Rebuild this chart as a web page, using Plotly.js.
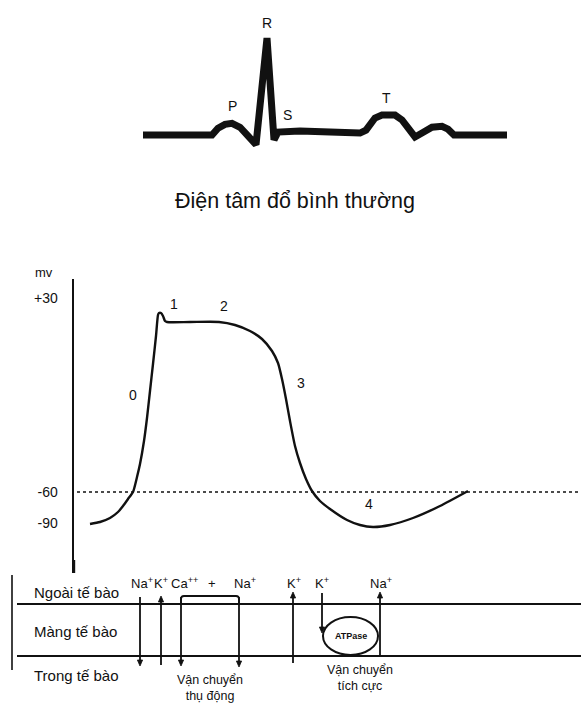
<!DOCTYPE html>
<html>
<head>
<meta charset="utf-8">
<script src="https://cdn.plot.ly/plotly-3.0.1.min.js"></script>
<style>html,body{margin:0;padding:0;background:#fff;}#chart{width:581px;height:704px;}</style>
</head>
<body>
<div id="chart"></div>
<script>
// ---- ECG (normal electrocardiogram) ----
var ecgTime = [143,200,212,218,225,232,240,248,256,267,274,278,300,330,360,366,375,382,395,402,415,422,432,442,448,454,507];
var ecgAmp  = [0,0,0,0.07,0.11,0.12,0.08,-0.01,-0.10,1.0,-0.05,0.03,0.04,0.03,0.02,0.05,0.175,0.206,0.206,0.155,-0.02,0.02,0.08,0.09,0.06,0,0];
var ecgWaveNames = ['P','Q','R','S','T'];
var ecgWaveTime  = [232,268,267,287,386];
var ecgWaveAmp   = [0.299,-0.278,1.155,0.206,0.381];
var ecgTitle = 'Điện tâm đổ bình thường';

// ---- Action potential (schematic levels) ----
var apTime  = [16,26,36,44,49,54,59,63,66,70,73,76,79,82,84,85,87,89,91,93,116,145,161,176,188,198,204,208,212,216,221,226,232,238,246,256,273,286,299,316,339,366,394];
var apLevel = [49,51,55,61,67,74,81,96,109,132,155,182,209,237,258,260,260,257,252,251,251,251,248,242,234,222,210,194,174,152,127,110,94,82,72,64,53,48,46,48,55,67,82];
var apTickVals = [50,81,275];
var apTickText = ['-90','-60','+30'];
var thresholdLevel = 81;
var phaseNames = ['0','1','2','3','4'];
var phaseTime  = [59,100,150,227,295];
var phaseLevel = [178,269,267,190,69];

// ---- Membrane transport ----
var zoneNames = ['Ngoài tế bào','Màng tế bào','Trong tế bào'];
var ionNames = ['Na<sup>+</sup>','K<sup>+</sup>','Ca<sup>++</sup>','+','Na<sup>+</sup>','K<sup>+</sup>','K<sup>+</sup>','Na<sup>+</sup>'];
var transportNames = ['Vận chuyển<br>thụ động','Vận chuyển<br>tích cực'];
var pumpName = 'ATPase';

var W = 581, H = 704;
function X(px){ return px / W; }
function Y(py){ return 1 - py / H; }
var FONT = 'Liberation Sans, Arial, sans-serif';
var INK = '#111';

var traces = [
  {x: ecgTime, y: ecgAmp, xaxis: 'x2', yaxis: 'y2', mode: 'lines',
   line: {color: INK, width: 7}, hoverinfo: 'skip'},
  {x: apTime, y: apLevel, xaxis: 'x', yaxis: 'y', mode: 'lines',
   line: {color: INK, width: 2.4, shape: 'spline', smoothing: 0.6}, hoverinfo: 'skip'}
];

var ann = [];
function txt(x, y, t, size, opts){
  var a = {x: x, y: y, xref: 'paper', yref: 'paper', text: t, showarrow: false,
           font: {family: FONT, size: size, color: INK}, xanchor: 'center', yanchor: 'middle'};
  for (var k in (opts||{})) a[k] = opts[k];
  ann.push(a);
}
for (var i = 0; i < ecgWaveNames.length; i++) {
  ann.push({x: ecgWaveTime[i], y: ecgWaveAmp[i], xref: 'x2', yref: 'y2', text: ecgWaveNames[i],
            showarrow: false, font: {family: FONT, size: 14, color: INK}});
}
for (var i = 0; i < phaseNames.length; i++) {
  ann.push({x: phaseTime[i], y: phaseLevel[i], xref: 'x', yref: 'y', text: phaseNames[i],
            showarrow: false, font: {family: FONT, size: 14, color: INK}});
}
txt(X(44), Y(272), 'mv', 13);

txt(X(32), Y(592), zoneNames[0], 15, {xanchor: 'left'});
txt(X(32), Y(631), zoneNames[1], 15, {xanchor: 'left'});
txt(X(32), Y(675), zoneNames[2], 15, {xanchor: 'left'});

var ionX = [142,161,184,212,245,294,322,381];
for (var i = 0; i < ionNames.length; i++) txt(X(ionX[i]), Y(583), ionNames[i], 13);

txt(X(210), Y(688), transportNames[0], 12.5);
txt(X(360), Y(678), transportNames[1], 12.5);
txt(X(351), Y(636), pumpName, 9, {font: {family: FONT, size: 9, color: INK, weight: 'bold'}});

var shapes = [
  {type: 'line', xref: 'paper', yref: 'y', x0: X(77), x1: 1, y0: thresholdLevel, y1: thresholdLevel,
   line: {color: INK, width: 1.6, dash: 'dot'}},
  {type: 'line', xref: 'paper', yref: 'paper', x0: X(17), x1: 1, y0: Y(604), y1: Y(604), line: {color: INK, width: 2}},
  {type: 'line', xref: 'paper', yref: 'paper', x0: X(17), x1: 1, y0: Y(656), y1: Y(656), line: {color: INK, width: 2}},
  {type: 'line', xref: 'paper', yref: 'paper', x0: X(12), x1: X(12), y0: Y(575), y1: Y(670), line: {color: INK, width: 1.6}},
  {type: 'line', xref: 'paper', yref: 'paper', x0: X(74), x1: X(74), y0: Y(560), y1: Y(573), line: {color: INK, width: 2.4}},
  {type: 'path', xref: 'paper', yref: 'paper',
   path: 'M ' + X(181) + ' ' + Y(604) + ' L ' + X(181) + ' ' + Y(599) + ' Q ' + X(181) + ' ' + Y(596) + ' ' + X(184) + ' ' + Y(596) +
         ' L ' + X(236) + ' ' + Y(596) + ' Q ' + X(239) + ' ' + Y(596) + ' ' + X(239) + ' ' + Y(599) + ' L ' + X(239) + ' ' + Y(604),
   line: {color: INK, width: 1.8}},
  {type: 'circle', xref: 'paper', yref: 'paper', x0: X(323), x1: X(378), y0: Y(655), y1: Y(617),
   line: {color: INK, width: 2}}
];

// ion arrows: [x, tailY, headY]
var arrows = [[140,597,666],[161,665,596],[181,597,666],[239,597,667],[293,663,592],[322,593,633],[380,656,592]];
arrows.forEach(function(a){
  var x = a[0], t = a[1], h = a[2], d = h > t ? 1 : -1;
  shapes.push({type: 'line', xref: 'paper', yref: 'paper', x0: X(x), x1: X(x), y0: Y(t), y1: Y(h - d*2),
               line: {color: INK, width: 1.8}});
  shapes.push({type: 'path', xref: 'paper', yref: 'paper',
               path: 'M ' + X(x) + ' ' + Y(h) + ' L ' + X(x - 2.6) + ' ' + Y(h - d*6) + ' L ' + X(x + 2.6) + ' ' + Y(h - d*6) + ' Z',
               fillcolor: INK, line: {color: INK, width: 0.8}});
});

var layout = {
  width: W, height: H,
  margin: {l: 0, r: 0, t: 0, b: 0},
  paper_bgcolor: '#fff', plot_bgcolor: 'rgba(0,0,0,0)',
  showlegend: false,
  title: {text: ecgTitle, x: X(295), y: Y(200), xanchor: 'center', yanchor: 'middle',
          font: {family: FONT, size: 21.5, color: INK}},
  xaxis: {domain: [X(74), 1], range: [0, 507], visible: false, fixedrange: true},
  yaxis: {domain: [Y(573), Y(279)], range: [0, 294], showline: true, linecolor: INK, linewidth: 2.4,
          tickvals: apTickVals, ticktext: apTickText, ticks: 'outside', ticklen: 11, tickcolor: 'rgba(0,0,0,0)',
          showgrid: false, zeroline: false, tickfont: {family: FONT, size: 14, color: INK}, fixedrange: true},
  xaxis2: {domain: [0, 1], range: [0, 581], visible: false, anchor: 'y2', fixedrange: true},
  yaxis2: {domain: [Y(160), Y(20)], range: [-0.2577, 1.1856], visible: false, anchor: 'x2', fixedrange: true},
  shapes: shapes,
  annotations: ann
};

Plotly.newPlot('chart', traces, layout, {staticPlot: true, displayModeBar: false});
</script>
</body>
</html>
